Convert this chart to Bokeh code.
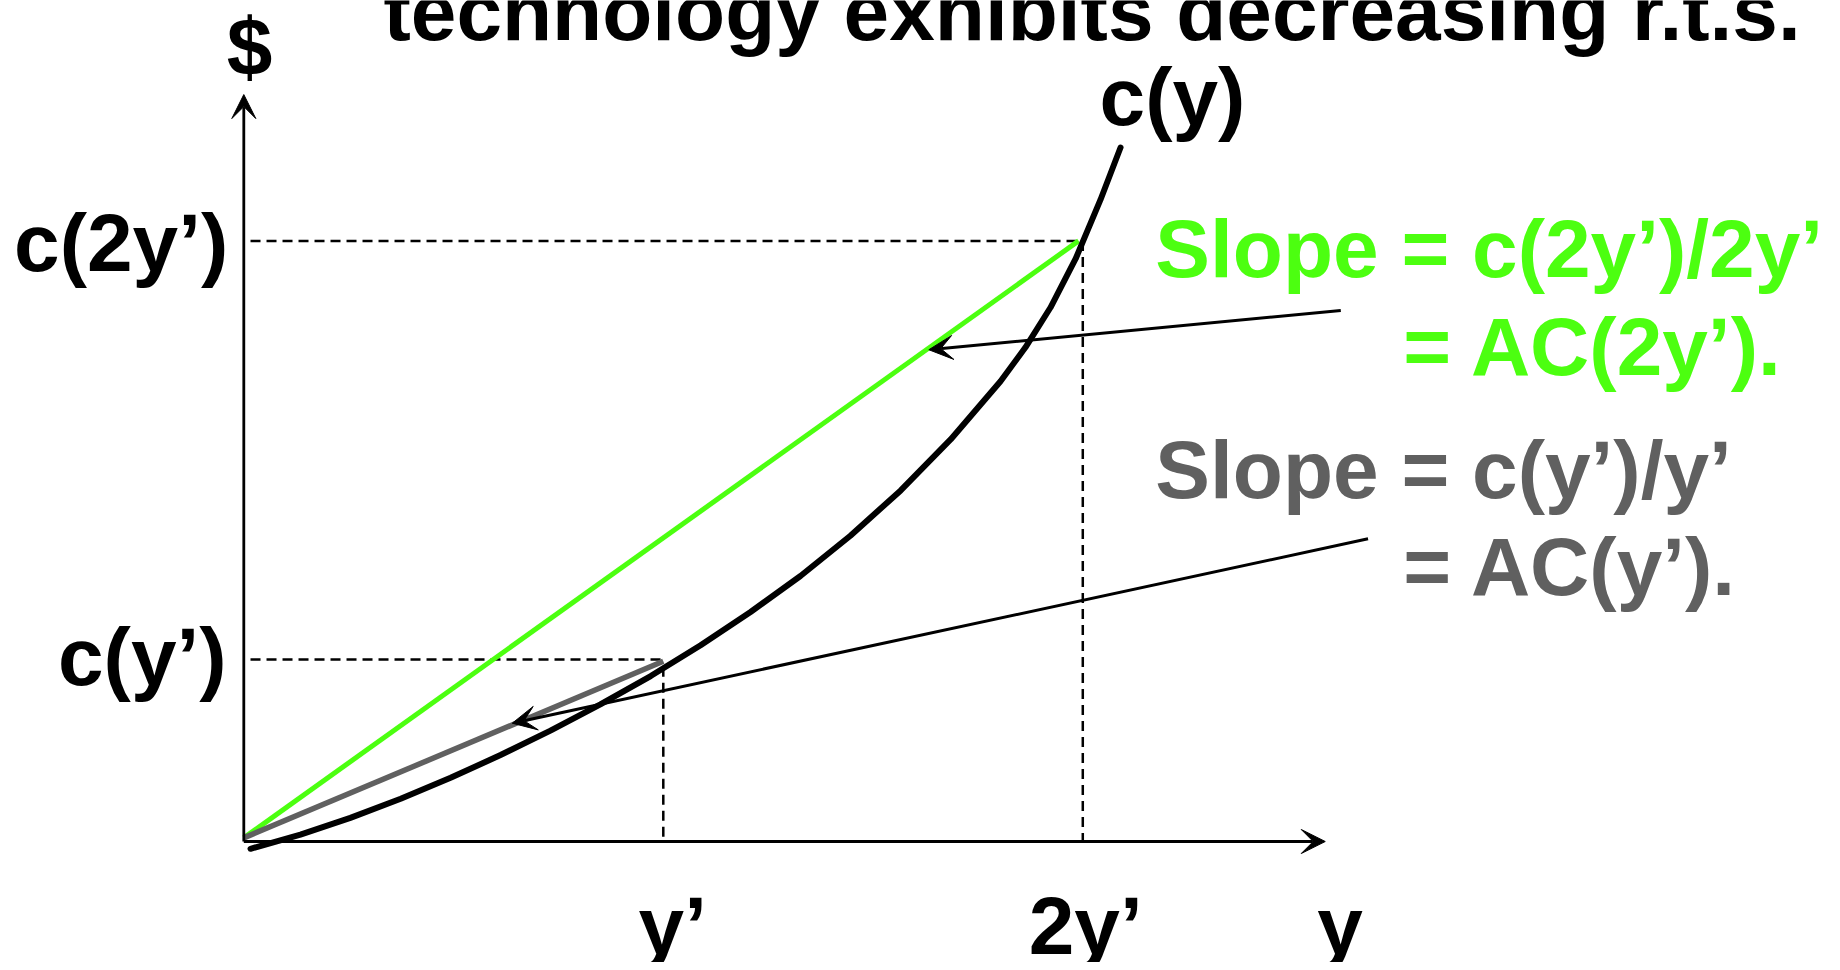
from bokeh.plotting import figure
from bokeh.models import Range1d, Arrow, VeeHead
from bokeh.core.properties import value
from bokeh.embed import file_html
from bokeh.resources import INLINE

# ---- data (units: output y' = 1, cost c(y') = 1) ----
curve_x = [0.016, 0.135, 0.254, 0.374, 0.493, 0.612, 0.731, 0.850, 0.970, 1.089,
           1.208, 1.327, 1.446, 1.566, 1.685, 1.804, 1.863, 1.923, 1.983, 2.042, 2.090]
curve_y = [-0.040, 0.038, 0.130, 0.235, 0.350, 0.475, 0.609, 0.753, 0.909, 1.078,
           1.261, 1.459, 1.680, 1.929, 2.209, 2.529, 2.714, 2.934, 3.202, 3.525, 3.813]

y_prime = 1.0
two_y_prime = 2.0
c_y_prime = 1.0
c_2y_prime = 3.30

green_x = [0.0, 1.99]
green_y = [0.02, 3.30]
gray_x = [0.0, 1.00]
gray_y = [0.02, 0.99]

title_text = "technology exhibits decreasing r.t.s."
ytick_labels = ["c(2y\u2019)", "c(y\u2019)"]
xtick_labels = ["y\u2019", "2y\u2019"]
green_labels = ["Slope = c(2y\u2019)/2y\u2019", "= AC(2y\u2019)."]
gray_labels = ["Slope = c(y\u2019)/y\u2019", "= AC(y\u2019)."]

GREEN = "#4CFF10"
GRAY = "#606060"
FONT = value("Liberation Sans")
FS = "82px"
TEXT_DY = 29 / 182.0

p = figure(width=1832, height=962, output_backend="svg", toolbar_location=None,
           x_range=Range1d(-0.5800, 3.7872), y_range=Range1d(-0.6648, 4.6209),
           min_border=0, min_border_left=0, min_border_right=0,
           min_border_top=0, min_border_bottom=0)
p.xaxis.visible = False
p.yaxis.visible = False
p.grid.visible = False
p.outline_line_color = None
p.background_fill_color = "white"
p.border_fill_color = "white"

# axes with arrows
p.add_layout(Arrow(end=VeeHead(size=24, fill_color="black", line_color="black"),
                   x_start=0, y_start=0, x_end=0, y_end=4.104, line_width=2.8, line_color="black"))
p.add_layout(Arrow(end=VeeHead(size=24, fill_color="black", line_color="black"),
                   x_start=0, y_start=0, x_end=2.578, y_end=0, line_width=2.8, line_color="black"))

# dashed guides
dash = "10 6"
p.line([0.016, two_y_prime], [c_2y_prime, c_2y_prime], line_dash=dash, line_width=2.5, line_color="black")
p.line([two_y_prime, two_y_prime], [c_2y_prime, 0], line_dash=dash, line_width=2.5, line_color="black")
p.line([0.016, y_prime], [c_y_prime, c_y_prime], line_dash=dash, line_width=2.5, line_color="black")
p.line([y_prime, y_prime], [0.96, 0], line_dash=dash, line_width=2.5, line_color="black")

# rays
p.line(green_x, green_y, line_color=GREEN, line_width=5)
p.line(gray_x, gray_y, line_color=GRAY, line_width=5.5)

# cost curve
p.line(curve_x, curve_y, line_color="black", line_width=6, line_cap="round", line_join="round")

# pointer arrows
p.add_layout(Arrow(end=VeeHead(size=24, fill_color="black", line_color="black"),
                   x_start=2.615, y_start=2.918, x_end=1.633, y_end=2.702,
                   line_width=3, line_color="black"))
p.add_layout(Arrow(end=VeeHead(size=24, fill_color="black", line_color="black"),
                   x_start=2.680, y_start=1.663, x_end=0.640, y_end=0.650,
                   line_width=3, line_color="black"))

def txt(x, y, s, color="black", align="left"):
    p.text(x=[x], y=[y + TEXT_DY], text=[s], text_font=FONT, text_font_size=FS,
           text_font_style="bold", text_color=color, text_align=align,
           text_baseline="alphabetic")

txt(0.333, 4.401, title_text)
txt(0.0136, 4.209, "$", align="center")
txt(-0.037, 3.132, ytick_labels[0], align="right")
txt(-0.041, 0.857, ytick_labels[1], align="right")
txt(2.040, 3.934, "c(y)")
txt(0.941, -0.62, xtick_labels[0])
txt(1.871, -0.62, xtick_labels[1])
txt(2.559, -0.62, "y")
txt(2.173, 3.099, green_labels[0], color=GREEN)
txt(2.764, 2.560, green_labels[1], color=GREEN)
txt(2.173, 1.885, gray_labels[0], color=GRAY)
txt(2.764, 1.352, gray_labels[1], color=GRAY)

open("out.html", "w").write(file_html(p, INLINE))
